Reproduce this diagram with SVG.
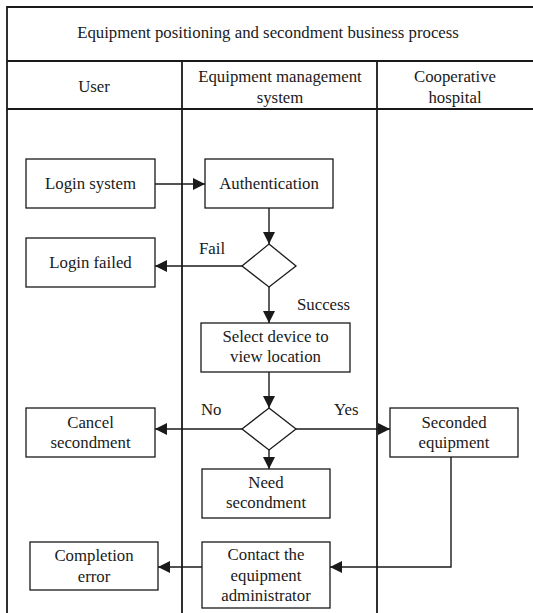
<svg xmlns="http://www.w3.org/2000/svg" width="533" height="613" viewBox="0 0 533 613">
<style>
.frame{fill:none;stroke:#1a1a1a;stroke-width:1.8}
.box{fill:#fff;stroke:#1a1a1a;stroke-width:1.3}
.t{font-family:"Liberation Serif","Times New Roman",serif;font-size:16.8px;fill:#1a1a1a;text-anchor:middle}
.lbl{font-family:"Liberation Serif","Times New Roman",serif;font-size:16.8px;fill:#1a1a1a}
.c{fill:none;stroke:#1a1a1a;stroke-width:1.4}
</style>
<defs>
<marker id="ah" markerWidth="12" markerHeight="12" refX="12" refY="6" orient="auto" markerUnits="userSpaceOnUse">
<path d="M0,0 L12,6 L0,12 Z" fill="#1a1a1a"/>
</marker>
</defs>
<rect width="533" height="613" fill="#fff"/>
<g id="frame">
<path class="frame" d="M7,613 V7 H540 M7,61 H540 M7,109 H540 M182,61 V613 M377,61 V613"/>
<text class="t" x="268" y="38">Equipment positioning and secondment business process</text>
<text class="t" x="94" y="92">User</text>
<text class="t" x="280" y="82">Equipment management</text>
<text class="t" x="280" y="103">system</text>
<text class="t" x="455" y="82">Cooperative</text>
<text class="t" x="455" y="103">hospital</text>
</g>
<g id="connectors">
<line class="c" x1="155" y1="184" x2="205" y2="184" marker-end="url(#ah)"/>
<line class="c" x1="269" y1="208" x2="269" y2="244" marker-end="url(#ah)"/>
<line class="c" x1="242" y1="266" x2="155" y2="266" marker-end="url(#ah)"/>
<line class="c" x1="269" y1="287" x2="269" y2="323" marker-end="url(#ah)"/>
<line class="c" x1="269" y1="372" x2="269" y2="408" marker-end="url(#ah)"/>
<line class="c" x1="242" y1="429" x2="155" y2="429" marker-end="url(#ah)"/>
<line class="c" x1="296" y1="429" x2="390" y2="429" marker-end="url(#ah)"/>
<line class="c" x1="269" y1="450" x2="269" y2="469" marker-end="url(#ah)"/>
<polyline class="c" points="451,457 451,567 330,567" marker-end="url(#ah)"/>
<line class="c" x1="202" y1="567" x2="158" y2="567" marker-end="url(#ah)"/>
<text class="lbl" x="199" y="254">Fail</text>
<text class="lbl" x="297" y="310">Success</text>
<text class="lbl" x="201" y="415">No</text>
<text class="lbl" x="334" y="415">Yes</text>
</g>
<g id="login-system"><rect class="box" x="26" y="159" width="129" height="49"/><text class="t" x="90.5" y="189">Login system</text></g>
<g id="authentication"><rect class="box" x="205" y="159" width="128" height="49"/><text class="t" x="269" y="189">Authentication</text></g>
<g id="decision-auth"><polygon class="box" points="269,244 296,266 269,287 242,266"/></g>
<g id="login-failed"><rect class="box" x="26" y="238" width="129" height="49"/><text class="t" x="90.5" y="268">Login failed</text></g>
<g id="select-device"><rect class="box" x="201" y="323" width="149" height="49"/><text class="t" x="275.5" y="342">Select device to</text><text class="t" x="275.5" y="362">view location</text></g>
<g id="decision-secondment"><polygon class="box" points="269,408 296,429 269,450 242,429"/></g>
<g id="cancel-secondment"><rect class="box" x="26" y="408" width="129" height="49"/><text class="t" x="90.5" y="428">Cancel</text><text class="t" x="90.5" y="448">secondment</text></g>
<g id="seconded-equipment"><rect class="box" x="390" y="408" width="128" height="49"/><text class="t" x="454" y="428">Seconded</text><text class="t" x="454" y="448">equipment</text></g>
<g id="need-secondment"><rect class="box" x="202" y="469" width="128" height="49"/><text class="t" x="266" y="488">Need</text><text class="t" x="266" y="508">secondment</text></g>
<g id="contact-admin"><rect class="box" x="202" y="542" width="128" height="66"/><text class="t" x="266" y="560">Contact the</text><text class="t" x="266" y="581">equipment</text><text class="t" x="266" y="601">administrator</text></g>
<g id="completion-error"><rect class="box" x="30" y="542" width="128" height="48"/><text class="t" x="94" y="561">Completion</text><text class="t" x="94" y="582">error</text></g>
</svg>
